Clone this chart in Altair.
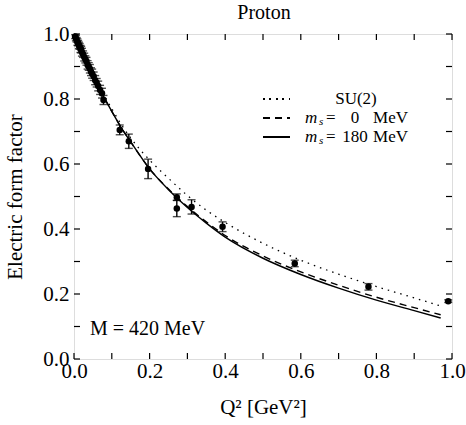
import altair as alt
import pandas as pd

FONT = "Liberation Serif"

# ---------------- data ----------------
# experimental points: Q^2, G_E, error
pt_q2 = [0.003, 0.005, 0.007, 0.009, 0.011, 0.013, 0.015, 0.017, 0.019, 0.021,
         0.024, 0.027, 0.030, 0.033, 0.036, 0.039, 0.042, 0.045, 0.048, 0.052,
         0.056, 0.060, 0.064, 0.069, 0.074, 0.078,
         0.121, 0.145, 0.196, 0.272, 0.272, 0.311, 0.393, 0.584, 0.779, 0.990]
pt_ge = [0.992, 0.987, 0.982, 0.975, 0.972, 0.965, 0.962, 0.954, 0.952, 0.944,
         0.938, 0.929, 0.922, 0.916, 0.905, 0.900, 0.893, 0.884, 0.878, 0.870,
         0.858, 0.850, 0.840, 0.828, 0.818, 0.797,
         0.705, 0.670, 0.585, 0.498, 0.463, 0.468, 0.407, 0.294, 0.222, 0.178]
pt_err = [0.006, 0.008, 0.007, 0.010, 0.008, 0.010, 0.009, 0.011, 0.010, 0.012,
          0.010, 0.012, 0.011, 0.012, 0.013, 0.012, 0.013, 0.012, 0.014, 0.013,
          0.014, 0.013, 0.015, 0.014, 0.015, 0.014,
          0.015, 0.022, 0.030, 0.010, 0.025, 0.022, 0.015, 0.010, 0.010, 0.004]

# model curves
curve_q2 = [0.0, 0.025, 0.05, 0.075, 0.1, 0.125, 0.15, 0.2, 0.25, 0.3, 0.35,
            0.4, 0.5, 0.6, 0.7, 0.8, 0.9, 0.97]
su2 = [1.0, 0.936, 0.877, 0.822, 0.770, 0.722, 0.680, 0.612, 0.556, 0.503,
       0.458, 0.420, 0.356, 0.304, 0.261, 0.223, 0.188, 0.163]
ms0 = [1.0, 0.935, 0.873, 0.815, 0.762, 0.712, 0.668, 0.585, 0.523, 0.469,
       0.422, 0.380, 0.317, 0.268, 0.227, 0.190, 0.158, 0.136]
ms180 = [1.0, 0.935, 0.873, 0.815, 0.762, 0.712, 0.668, 0.585, 0.521, 0.466,
         0.418, 0.375, 0.310, 0.260, 0.218, 0.181, 0.149, 0.126]

tick_vals = [0.0, 0.1, 0.2, 0.3, 0.4, 0.5, 0.6, 0.7, 0.8, 0.9, 1.0]
label_vals = [0.0, 0.2, 0.4, 0.6, 0.8, 1.0]

# ---------------- tables ----------------
pts = pd.DataFrame({"q2": pt_q2, "ge": pt_ge, "err": pt_err})
pts["lo"] = pts["ge"] - pts["err"]
pts["hi"] = pts["ge"] + pts["err"]
curves = pd.DataFrame({"q2": curve_q2, "su2": su2, "ms0": ms0, "ms180": ms180})
ticks = pd.DataFrame({"t": tick_vals})

W, H = 378, 325
TL = 6

xs = alt.Scale(domain=[0, 1], nice=False, zero=False)
ys = alt.Scale(domain=[0, 1], nice=False, zero=False)

x_axis = alt.Axis(values=label_vals, format=".1f", title="Q² [GeV²]",
                  ticks=False, tickSize=0, domain=False, grid=False,
                  labelFont=FONT, labelFontSize=21, labelPadding=1,
                  labelColor="black", labelFlush=False, labelOverlap=False,
                  titleFont=FONT, titleFontSize=21, titleFontWeight="normal",
                  titleColor="black", titlePadding=15)
y_axis = alt.Axis(values=label_vals, format=".1f", title="Electric form factor",
                  ticks=False, tickSize=0, domain=False, grid=False,
                  labelFont=FONT, labelFontSize=21, labelPadding=5,
                  labelColor="black", labelFlush=False, labelOverlap=False,
                  titleFont=FONT, titleFontSize=21, titleFontWeight="normal",
                  titleColor="black", titlePadding=17)

base_c = alt.Chart(curves)
line_su2 = base_c.mark_line(color="black", strokeWidth=1.3, strokeDash=[1.5, 5],
                            interpolate="monotone").encode(
    x=alt.X("q2:Q", scale=xs, axis=x_axis),
    y=alt.Y("su2:Q", scale=ys, axis=y_axis))
line_ms0 = base_c.mark_line(color="black", strokeWidth=1.4, strokeDash=[7, 5],
                            interpolate="monotone").encode(
    x=alt.X("q2:Q", scale=xs), y=alt.Y("ms0:Q", scale=ys))
line_ms180 = base_c.mark_line(color="black", strokeWidth=1.4,
                              interpolate="monotone").encode(
    x=alt.X("q2:Q", scale=xs), y=alt.Y("ms180:Q", scale=ys))

base_p = alt.Chart(pts)
err_rule = base_p.mark_rule(color="black", strokeWidth=1.4).encode(
    x=alt.X("q2:Q", scale=xs), y=alt.Y("lo:Q", scale=ys), y2="hi:Q")
cap_lo = base_p.mark_tick(color="black", orient="horizontal", size=8,
                          thickness=1.4).encode(
    x=alt.X("q2:Q", scale=xs), y=alt.Y("lo:Q", scale=ys))
cap_hi = base_p.mark_tick(color="black", orient="horizontal", size=8,
                          thickness=1.4).encode(
    x=alt.X("q2:Q", scale=xs), y=alt.Y("hi:Q", scale=ys))
dots = base_p.mark_circle(color="black", opacity=1, size=42).encode(
    x=alt.X("q2:Q", scale=xs), y=alt.Y("ge:Q", scale=ys))

# inward ticks on all four sides
base_t = alt.Chart(ticks)
tk_bottom = base_t.mark_rule(color="black", strokeWidth=1.2).encode(
    x=alt.X("t:Q", scale=xs), y=alt.value(H), y2=alt.value(H - TL))
tk_top = base_t.mark_rule(color="black", strokeWidth=1.2).encode(
    x=alt.X("t:Q", scale=xs), y=alt.value(0), y2=alt.value(TL))
tk_left = base_t.mark_rule(color="black", strokeWidth=1.2).encode(
    y=alt.Y("t:Q", scale=ys), x=alt.value(0), x2=alt.value(TL))
tk_right = base_t.mark_rule(color="black", strokeWidth=1.2).encode(
    y=alt.Y("t:Q", scale=ys), x=alt.value(W), x2=alt.value(W - TL))

# legend
LX1, LX2 = 189, 216
R1, R2, R3 = 65, 84, 103
leg_dot = alt.Chart(ticks).mark_rule(color="black", strokeWidth=1.3,
                                     strokeDash=[1.5, 5]).encode(
    x=alt.value(LX1), x2=alt.value(LX2), y=alt.value(R1))
leg_dash = alt.Chart(ticks).mark_rule(color="black", strokeWidth=1.4,
                                      strokeDash=[7, 5]).encode(
    x=alt.value(LX1), x2=alt.value(LX2), y=alt.value(R2))
leg_solid = alt.Chart(ticks).mark_rule(color="black", strokeWidth=1.4).encode(
    x=alt.value(LX1), x2=alt.value(LX2), y=alt.value(R3))


def txt(s, x, y, size=17, align="left", style="normal", baseline="middle"):
    return alt.Chart(pd.DataFrame({"s": [s]})).mark_text(
        font=FONT, fontSize=size, align=align, baseline=baseline,
        fontStyle=style, color="black").encode(
        text="s:N", x=alt.value(x), y=alt.value(y))


legend_txt = [
    txt("SU(2)", 282, R1, align="center"),
    txt("m", 231, R2, style="italic"),
    txt("s", 245, R2 + 4, size=11, style="italic"),
    txt("=", 252, R2),
    txt("0", 281, R2, align="center"),
    txt("MeV", 334, R2, align="right"),
    txt("m", 231, R3, style="italic"),
    txt("s", 245, R3 + 4, size=11, style="italic"),
    txt("=", 252, R3),
    txt("180", 281, R3, align="center"),
    txt("MeV", 334, R3, align="right"),
]
m_txt = txt("M = 420 MeV", 16, 301, size=20, baseline="alphabetic")
title_txt = txt("Proton", 190, -21, size=20, align="center")

chart = alt.layer(
    line_su2, line_ms0, line_ms180, err_rule, cap_lo, cap_hi, dots,
    tk_bottom, tk_top, tk_left, tk_right,
    leg_dot, leg_dash, leg_solid, *legend_txt, m_txt, title_txt
).properties(
    width=W, height=H,
    autosize=alt.AutoSizeParams(type="none"),
    padding={"left": 74, "top": 34, "right": 14, "bottom": 66},
).configure_view(stroke="black", strokeWidth=1.3).configure(background="white")

chart.save("out.html", embed_options={"renderer": "svg", "actions": False})
